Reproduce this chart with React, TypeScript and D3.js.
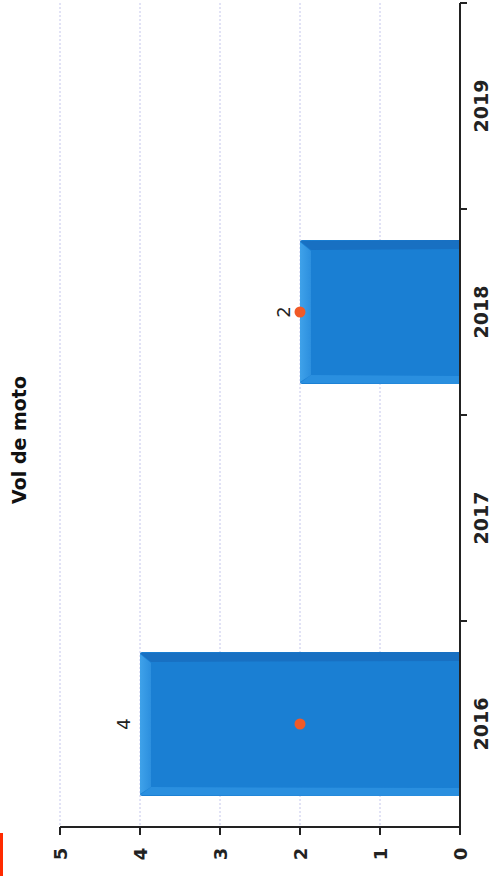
import React from "react";
import * as d3 from "d3";

const categories = ["2016", "2017", "2018", "2019"];
const barValues: (number | null)[] = [4, null, 2, null];
const dotValues: (number | null)[] = [2, null, 2, null];
const valueTicks = [0, 1, 2, 3, 4, 5];
const title = "Vol de moto";

const W = 492;
const H = 876;
const FONT = "DejaVu Sans, sans-serif";

export default function App() {
  const x = d3.scaleLinear().domain([0, 5]).range([460, 60]);
  const y = d3.scaleBand<string>().domain(categories).range([827, 3]).paddingInner(0.3).paddingOuter(0.15);
  const yOuter = d3.scaleBand<string>().domain(categories).range([827, 3]);
  const axisX = x(0);
  const axisY = 827;
  const bev = 11;

  return (
    <svg width={W} height={H} style={{ position: "absolute", left: 0, top: 0, background: "#fff" }}>
      <defs>
        <linearGradient id="leftBev" x1="0" x2="1" y1="0" y2="0">
          <stop offset="0" stopColor="#3fa2ea" />
          <stop offset="1" stopColor="#2c8fde" />
        </linearGradient>
      </defs>
      <rect width={W} height={H} fill="#fff" />
      {/* gridlines */}
      {valueTicks.map((t) => (
        <line key={"g" + t} x1={x(t)} x2={x(t)} y1={3} y2={axisY} stroke="#c4c6ec" strokeWidth={1} strokeDasharray="2,2" />
      ))}
      {/* bars */}
      {categories.map((c, i) => {
        const v = barValues[i];
        if (v == null) return null;
        const x0 = x(v);
        const x1 = axisX;
        const y0 = y(c)!;
        const bw = y.bandwidth();
        const y1 = y0 + bw;
        return (
          <g key={"b" + c}>
            <path d={`M${x0 + 2},${y0} L${x1},${y0} L${x1},${y1} L${x0 + 2},${y1} Q${x0},${y1} ${x0},${y1 - 2} L${x0},${y0 + 2} Q${x0},${y0} ${x0 + 2},${y0} Z`} fill="#1a7fd3" />
            {/* top (darker) bevel */}
            <path d={`M${x0},${y0 + 1} L${x1},${y0} L${x1},${y0 + bev - 2} L${x0 + bev},${y0 + bev - 1} Z`} fill="#1870c2" />
            {/* bottom (lighter) bevel */}
            <path d={`M${x0},${y1 - 1} L${x1},${y1} L${x1},${y1 - bev + 3} L${x0 + bev},${y1 - bev + 2} Z`} fill="#2a8fdf" />
            {/* left bevel */}
            <path d={`M${x0},${y0 + 2} L${x0 + bev},${y0 + bev} L${x0 + bev},${y1 - bev + 2} L${x0},${y1 - 2} Z`} fill="url(#leftBev)" />
            <text
              transform={`translate(${x0 - 17},${y0 + bw / 2}) rotate(-90)`}
              textAnchor="middle"
              dominantBaseline="central"
              fontFamily={FONT}
              fontSize={18}
              fill="#222"
            >
              {v}
            </text>
          </g>
        );
      })}
      {/* dots */}
      {categories.map((c, i) => {
        const v = dotValues[i];
        if (v == null) return null;
        return <circle key={"d" + c} cx={x(v)} cy={y(c)! + y.bandwidth() / 2} r={5.5} fill="#f05a28" />;
      })}
      {/* value axis */}
      <line x1={x(5)} x2={axisX} y1={axisY} y2={axisY} stroke="#222" strokeWidth={2} />
      {valueTicks.map((t) => (
        <g key={"t" + t}>
          <line x1={x(t)} x2={x(t)} y1={axisY} y2={axisY + 8} stroke="#222" strokeWidth={2} />
          <text
            transform={`translate(${x(t)},${854}) rotate(-90)`}
            textAnchor="middle"
            dominantBaseline="central"
            fontFamily={FONT}
            fontWeight="bold"
            fontSize={18}
            fill="#222"
          >
            {t}
          </text>
        </g>
      ))}
      {/* category axis */}
      <line x1={axisX} x2={axisX} y1={3} y2={axisY} stroke="#222" strokeWidth={2} />
      {categories.map((c) => (
        <line key={"ct" + c} x1={axisX} x2={axisX + 7} y1={yOuter(c)!} y2={yOuter(c)!} stroke="#222" strokeWidth={2} />
      ))}
      {categories.map((c) => (
        <text
          key={"cl" + c}
          transform={`translate(${481},${yOuter(c)! + yOuter.bandwidth() / 2}) rotate(-90)`}
          textAnchor="middle"
          dominantBaseline="central"
          fontFamily={FONT}
          fontWeight="bold"
          fontSize={19}
          fill="#222"
        >
          {c}
        </text>
      ))}
      {/* title */}
      <text
        transform={`translate(${19},${440}) rotate(-90)`}
        textAnchor="middle"
        dominantBaseline="central"
        fontFamily={FONT}
        fontWeight="bold"
        fontSize={19}
        fill="#111"
      >
        {title}
      </text>
      {/* legend fragment */}
      <rect x={0} y={833} width={3} height={43} fill="#ff2a00" />
    </svg>
  );
}
